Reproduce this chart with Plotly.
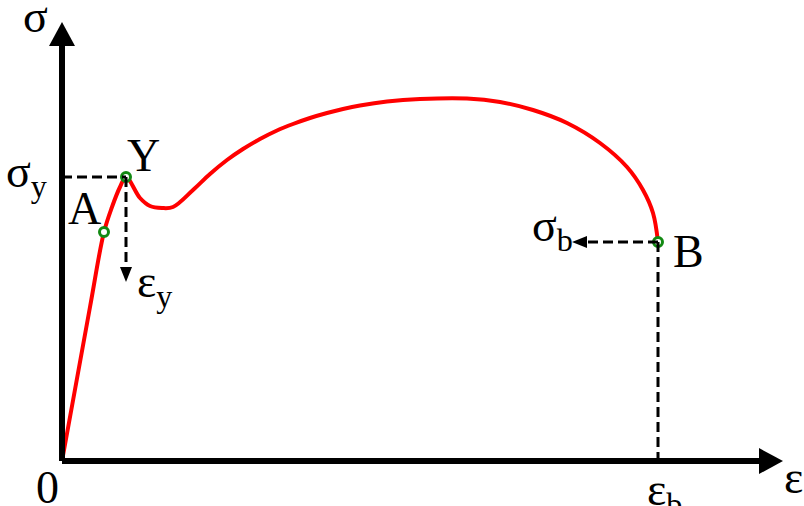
import plotly.graph_objects as go

# Stress-strain curve of a ductile polymer (arbitrary units)
strain = [0, 28, 42, 50, 58, 64, 78, 88, 100, 111, 131, 148, 165, 181, 198,
          215, 231, 248, 265, 281, 298, 325, 358, 405, 438, 471, 505, 538,
          565, 581, 591, 596]
stress = [0, 154, 229, 254, 274, 284, 263, 255, 253, 254, 271, 287, 301, 312, 322,
          330.5, 337, 343, 348, 352, 355.5, 359.5, 362, 362.5, 359, 351, 338, 318,
          294, 271, 248, 219]

# Characteristic points: proportional limit A, yield Y, break B
pt_names = ["A", "Y", "B"]
pt_strain = [42, 64, 596]
pt_stress = [229, 284, 219]

# Axis extents (arrow tips)
x_end = 721
y_end = 439

RED = "#ff0000"
GREEN = "#138a13"
FONT = "Liberation Serif"
FS = 46

fig = go.Figure()

# Axes drawn as thick lines with triangular heads
shapes = [
    dict(type="line", x0=0, y0=0, x1=x_end - 20, y1=0,
         line=dict(color="black", width=6)),
    dict(type="line", x0=0, y0=0, x1=0, y1=y_end - 20,
         line=dict(color="black", width=6)),
    dict(type="path", xsizemode="pixel", ysizemode="pixel",
         xanchor=x_end, yanchor=0, path="M 0 0 L -24 13 L -24 -13 Z",
         fillcolor="black", line=dict(width=0)),
    dict(type="path", xsizemode="pixel", ysizemode="pixel",
         xanchor=0, yanchor=y_end, path="M 0 0 L -13 -24 L 13 -24 Z",
         fillcolor="black", line=dict(width=0)),
]

ya, yy, yb = 0, 1, 2
dash = dict(color="black", width=3, dash="10px,5px")
# Yield stress guide
shapes.append(dict(type="line", x0=0, y0=pt_stress[yy], x1=pt_strain[yy], y1=pt_stress[yy], line=dash))
# Yield strain guide with arrow head
shapes.append(dict(type="line", x0=pt_strain[yy], y0=pt_stress[yy], x1=pt_strain[yy], y1=pt_stress[yy] - 91, line=dash))
shapes.append(dict(type="path", xsizemode="pixel", ysizemode="pixel",
                   xanchor=pt_strain[yy], yanchor=pt_stress[yy] - 105,
                   path="M 0 0 L -6 15 L 6 15 Z", fillcolor="black", line=dict(width=0)))
# Break strain guide
shapes.append(dict(type="line", x0=pt_strain[yb], y0=pt_stress[yb], x1=pt_strain[yb], y1=0, line=dash))
# Break stress guide with arrow head
shapes.append(dict(type="line", x0=pt_strain[yb], y0=pt_stress[yb], x1=pt_strain[yb] - 72, y1=pt_stress[yb], line=dash))
shapes.append(dict(type="path", xsizemode="pixel", ysizemode="pixel",
                   xanchor=pt_strain[yb] - 86, yanchor=pt_stress[yb],
                   path="M 0 0 L 15 6 L 15 -6 Z", fillcolor="black", line=dict(width=0)))

fig.add_trace(go.Scatter(x=strain, y=stress, mode="lines",
                         line=dict(color=RED, width=4, shape="spline", smoothing=1.0),
                         hoverinfo="skip"))
fig.add_trace(go.Scatter(x=pt_strain, y=pt_stress, mode="markers",
                         marker=dict(size=9, color="white", line=dict(color=GREEN, width=3)),
                         hoverinfo="skip"))

def label(text, x, y, size=FS):
    fig.add_annotation(x=x, y=y, text=text, showarrow=False,
                       font=dict(family=FONT, size=size, color="black"),
                       xanchor="center", yanchor="middle")

label("σ", -27, 445)
label("σ<sub>y</sub>", -36, 286)
label("A", 22, 253)
label("Y", 81, 306)
label("ε<sub>y</sub>", 92, 176)
label("σ<sub>b</sub>", 490, 232)
label("B", 626, 210)
label("0", -15, -26)
label("ε<sub>b</sub>", 602, -32)
label("ε", 731, -16)

fig.update_layout(
    width=804, height=506,
    margin=dict(l=0, r=0, t=0, b=0),
    paper_bgcolor="white", plot_bgcolor="white",
    showlegend=False,
    shapes=shapes,
    xaxis=dict(range=[-62, 742], visible=False, fixedrange=True),
    yaxis=dict(range=[-45, 461], visible=False, fixedrange=True),
)

fig.write_html("out.html")
